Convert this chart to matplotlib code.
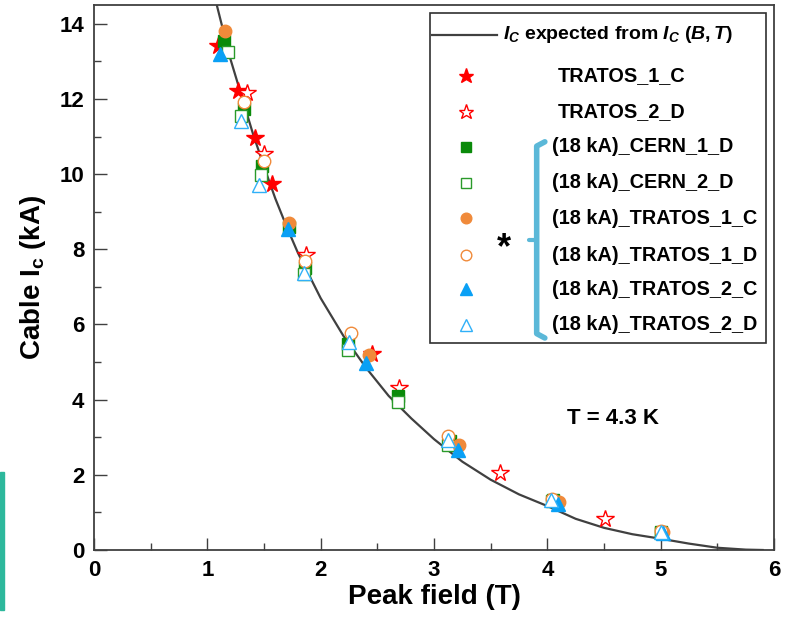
import matplotlib
matplotlib.use("Agg")
import matplotlib.pyplot as plt
from matplotlib.patches import Rectangle
from matplotlib.ticker import MultipleLocator

# --------------------------------------------------------------
# Data (peak field in T, cable Ic in kA)
# --------------------------------------------------------------
curve_B = [1.05, 1.2, 1.3, 1.4, 1.5, 1.6, 1.7, 1.8, 2.0, 2.2, 2.4, 2.6, 2.8,
           3.0, 3.25, 3.5, 3.75, 4.0, 4.25, 4.5, 4.75, 5.0, 5.25, 5.5, 5.75, 5.9]
curve_Ic = [14.9, 13.1, 12.1, 11.1, 10.2, 9.35, 8.6, 7.9, 6.7, 5.7, 4.85, 4.1, 3.5,
            2.95, 2.35, 1.87, 1.48, 1.17, 0.83, 0.59, 0.42, 0.30, 0.17, 0.06, 0.01, 0.0]

tr1c_B = [1.09, 1.27, 1.42, 1.57, 2.45]
tr1c_Ic = [13.4, 12.2, 10.95, 9.73, 5.22]

tr2d_B = [1.35, 1.50, 1.87, 2.69, 3.58, 4.51]
tr2d_Ic = [12.16, 10.53, 7.84, 4.31, 2.04, 0.82]

cern1d_B = [1.15, 1.32, 1.48, 1.72, 1.86, 2.24, 2.68, 3.14, 4.05, 5.0]
cern1d_Ic = [13.55, 11.73, 10.22, 8.6, 7.51, 5.47, 4.09, 2.9, 1.33, 0.47]

cern2d_B = [1.18, 1.30, 1.47, 1.85, 2.24, 2.68, 3.12, 4.04, 5.0]
cern2d_Ic = [13.25, 11.55, 9.97, 7.33, 5.33, 3.93, 2.8, 1.3, 0.45]

k18_tr1c_B = [1.16, 1.72, 2.43, 3.22, 4.10, 5.02]
k18_tr1c_Ic = [13.8, 8.71, 5.18, 2.8, 1.29, 0.47]

k18_tr1d_B = [1.32, 1.50, 1.86, 2.27, 3.12, 4.04, 5.0]
k18_tr1d_Ic = [11.93, 10.34, 7.69, 5.78, 3.04, 1.36, 0.5]

k18_tr2c_B = [1.11, 1.71, 2.40, 3.21, 4.09, 5.02]
k18_tr2c_Ic = [13.2, 8.55, 4.98, 2.67, 1.23, 0.45]

k18_tr2d_B = [1.30, 1.46, 1.85, 2.25, 3.12, 4.03, 5.0]
k18_tr2d_Ic = [11.42, 9.71, 7.36, 5.53, 2.93, 1.33, 0.47]

labels = ["TRATOS_1_C", "TRATOS_2_D",
          "(18 kA)_CERN_1_D", "(18 kA)_CERN_2_D",
          "(18 kA)_TRATOS_1_C", "(18 kA)_TRATOS_1_D",
          "(18 kA)_TRATOS_2_C", "(18 kA)_TRATOS_2_D"]

# --------------------------------------------------------------
# Styles: (x, y, marker, size, face, edge)
# --------------------------------------------------------------
series = [
    (tr1c_B, tr1c_Ic, "*", 13, "#ff0000", "#ff0000"),
    (tr2d_B, tr2d_Ic, "*", 13, "white", "#ff0000"),
    (cern1d_B, cern1d_Ic, "s", 8, "#0a8a0a", "#0a8a0a"),
    (cern2d_B, cern2d_Ic, "s", 8, "white", "#2a9a2a"),
    (k18_tr1c_B, k18_tr1c_Ic, "o", 9, "#f08a3a", "#f08a3a"),
    (k18_tr1d_B, k18_tr1d_Ic, "o", 9, "white", "#f08a3a"),
    (k18_tr2c_B, k18_tr2c_Ic, "^", 10, "#0aa0f5", "#0aa0f5"),
    (k18_tr2d_B, k18_tr2d_Ic, "^", 10, "white", "#30b0f8"),
]

plt.rcParams["font.family"] = ["Liberation Sans", "DejaVu Sans"]
plt.rcParams["font.weight"] = "bold"
plt.rcParams["mathtext.fontset"] = "custom"
plt.rcParams["mathtext.rm"] = "Liberation Sans:bold"
plt.rcParams["mathtext.bf"] = "Liberation Sans:bold"
plt.rcParams["mathtext.it"] = "Liberation Sans:bold:italic"

fig = plt.figure(figsize=(7.94, 6.21), dpi=100)
ax = fig.add_axes([94 / 794, 71 / 621, 680 / 794, 545 / 621])

# expected curve
ax.plot(curve_B, curve_Ic, color="#404040", lw=1.6, zorder=2)

for x, y, m, ms, fc, ec in series:
    ax.plot(x, y, ls="none", marker=m, ms=ms, mfc=fc, mec=ec, mew=1.0, zorder=3)

ax.set_xlim(0, 6)
ax.set_ylim(0, 14.5)
ax.xaxis.set_major_locator(MultipleLocator(1))
ax.xaxis.set_minor_locator(MultipleLocator(0.5))
ax.yaxis.set_major_locator(MultipleLocator(2))
ax.yaxis.set_minor_locator(MultipleLocator(1))
ax.tick_params(which="major", direction="in", length=9, width=1.0,
               color="#404040", labelsize=16, pad=7)
ax.tick_params(which="minor", direction="in", length=5, width=1.0, color="#404040")
for lab in ax.get_xticklabels() + ax.get_yticklabels():
    lab.set_fontweight("bold")
for sp in ax.spines.values():
    sp.set_color("#404040")
    sp.set_linewidth(1.3)

ax.set_xlabel("Peak field (T)", fontsize=20, fontweight="bold", labelpad=2)
ax.set_ylabel(r"Cable I$_\mathbf{c}$ (kA)", fontsize=20, fontweight="bold", labelpad=8)

ax.text(0.763, 0.242, "T = 4.3 K", transform=ax.transAxes, fontsize=16,
        fontweight="bold", ha="center", va="center")

# --------------------------------------------------------------
# Hand-made legend box (axes fraction coords)
# --------------------------------------------------------------
T = ax.transAxes
ax.add_patch(Rectangle((0.494, 0.380), 0.494, 0.605, transform=T, fill=True,
                       facecolor="white", edgecolor="#303030", lw=1.2, zorder=5))
ax.plot([0.497, 0.593], [0.945, 0.945], transform=T, color="#404040", lw=1.6,
        zorder=6, clip_on=False)
ax.text(0.601, 0.945, r"$I_C$ expected from $I_C$ $(B,T)$", transform=T,
        fontsize=14, fontweight="bold", ha="left", va="center", zorder=6)

row_y = [0.870, 0.804, 0.740, 0.674, 0.609, 0.541, 0.478, 0.413]
for (x, y, m, ms, fc, ec), lab, ry in zip(series, labels, row_y):
    ax.plot([0.547], [ry], transform=T, ls="none", marker=m, ms=ms * 0.85,
            mfc=fc, mec=ec, mew=1.0, zorder=6, clip_on=False)
    tx = 0.682 if lab.startswith("TRATOS") else 0.674
    ax.text(tx, ry, lab, transform=T, fontsize=14.3, fontweight="bold",
            ha="left", va="center", zorder=6)

# brace grouping the 18 kA samples + asterisk
bx, btop, bbot, bmid = 0.651, 0.749, 0.389, 0.569
ax.plot([bx + 0.012, bx, bx, bx + 0.012], [btop, btop - 0.008, bbot + 0.008, bbot],
        transform=T, color="#5bb8d8", lw=4, solid_capstyle="round",
        solid_joinstyle="round", zorder=6)
ax.plot([bx, bx - 0.012], [bmid, bmid], transform=T, color="#5bb8d8", lw=3,
        solid_capstyle="round", zorder=6)
ax.text(0.603, 0.552, "*", transform=T, fontsize=26, fontweight="bold",
        ha="center", va="center", zorder=6)

# teal sliver at the left edge of the original slide
fig.patches.append(Rectangle((0, 11 / 621), 4 / 794, 138 / 621,
                             transform=fig.transFigure, color="#2db89c"))

fig.savefig("out.png", dpi=100)
